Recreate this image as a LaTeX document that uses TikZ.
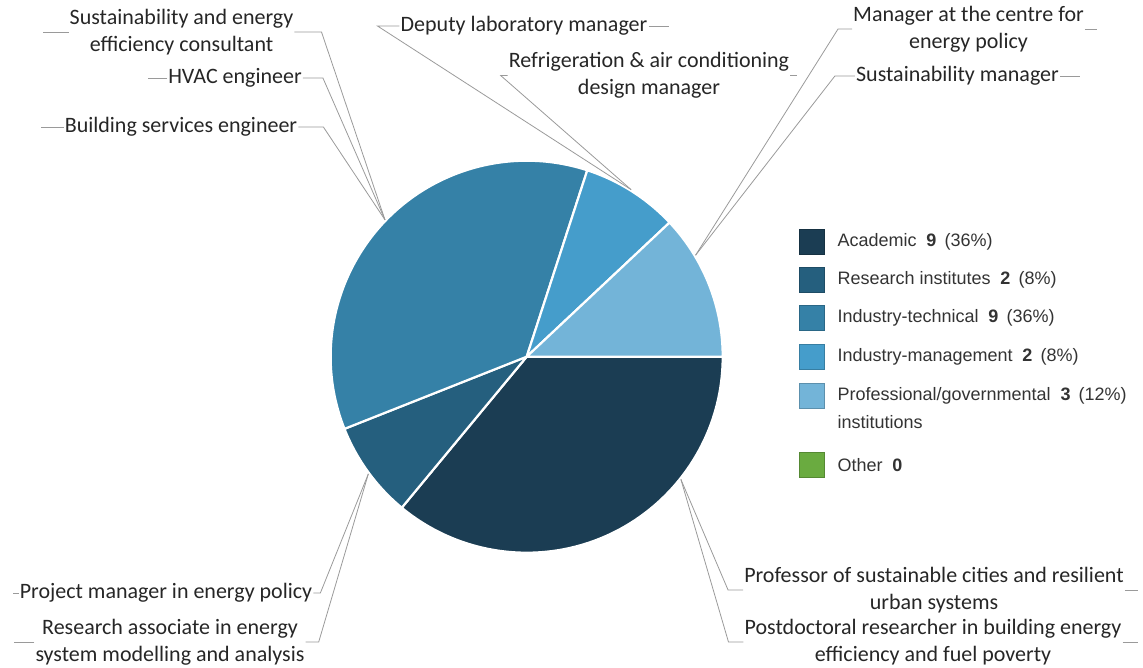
\documentclass[tikz,border=0pt]{standalone}
\usepackage{fontspec}
\setmainfont{Carlito}
\newfontfamily\legendfont{Liberation Sans}
\usetikzlibrary{calc}
\usetikzlibrary{positioning}

\definecolor{academic}{HTML}{1B3D53}
\definecolor{research}{HTML}{255F7E}
\definecolor{indtech}{HTML}{3581A7}
\definecolor{indman}{HTML}{459DCB}
\definecolor{profinst}{HTML}{73B4D8}
\definecolor{other}{HTML}{6AAB40}
\definecolor{leadgray}{HTML}{9A9A9A}

\tikzset{
	pieslice/.style={draw=white, line width=2.2pt, line join=round},
	leader/.style={draw=leadgray, line width=0.8pt},
	lbl/.style={font=\fontsize{22}{27}\selectfont, align=center, inner sep=1pt, text=black!85},
	legendkey/.style={minimum size=25pt, inner sep=0pt, draw=#1!80!black, fill=#1, line width=0.6pt},
	keytext/.style={font=\legendfont\fontsize{18}{28}\selectfont, inner sep=0pt, align=left, text=black!80}
}

\begin{document}
\begin{tikzpicture}[x=1pt, y=1pt]
	\useasboundingbox (0,0) rectangle (1143,-668);
	\coordinate (C) at (526.7,-356.7);
	% pie
	\filldraw[fill=academic, pieslice] (C) -- ++(0:196pt) arc[start angle=0, end angle=-129.6, radius=196pt] -- cycle;
	\filldraw[fill=research, pieslice] (C) -- ++(-129.6:196pt) arc[start angle=-129.6, end angle=-158.4, radius=196pt] -- cycle;
	\filldraw[fill=indtech, pieslice] (C) -- ++(201.6:196pt) arc[start angle=201.6, end angle=72, radius=196pt] -- cycle;
	\filldraw[fill=indman, pieslice] (C) -- ++(72:196pt) arc[start angle=72, end angle=43.2, radius=196pt] -- cycle;
	\filldraw[fill=profinst, pieslice] (C) -- ++(43.2:196pt) arc[start angle=43.2, end angle=0, radius=196pt] -- cycle;
	\coordinate (pTL) at ($(C)+(136:197pt)$);
	\coordinate (pTM) at ($(C)+(58:197pt)$);
	\coordinate (pTR) at ($(C)+(31:197pt)$);
	\coordinate (pBL) at ($(C)+(216.5:197pt)$);
	\coordinate (pBR) at ($(C)+(-38.5:197pt)$);
	% labels
	\node[lbl] (consult) at (181.5,-32) {Sustainability and energy\\efficiency consultant};
	\node[lbl] (hvac) at (235,-78) {HVAC engineer};
	\node[lbl] (bse) at (181,-127) {Building services engineer};
	\node[lbl] (deputy) at (524,-26) {Deputy laboratory manager};
	\node[lbl] (refrig) at (649,-75.5) {Refrigeration \& air conditioning\\design manager};
	\node[lbl] (cep) at (968.5,-29) {Manager at the centre for\\energy policy};
	\node[lbl] (susman) at (957.5,-76) {Sustainability manager};
	\node[lbl] (projman) at (166,-593) {Project manager in energy policy};
	\node[lbl] (resassoc) at (170,-642) {Research associate in energy\\system modelling and analysis};
	\node[lbl] (prof) at (934,-590) {Professor of sustainable cities and resilient\\urban systems};
	\node[lbl] (postdoc) at (933,-642) {Postdoctoral researcher in building energy\\efficiency and fuel poverty};
	% leader lines
	\draw[leader] (consult.west) -- ++(-26,0);
	\draw[leader] (consult.east) -- ++(27,0) -- (pTL);
	\draw[leader] (hvac.west) -- ++(-19,0);
	\draw[leader] (hvac.east) -- ++(20,0) -- (pTL);
	\draw[leader] (bse.west) -- ++(-23,0);
	\draw[leader] (bse.east) -- ++(25,0) -- (pTL);
	\draw[leader] (deputy.east) -- ++(20,0);
	\draw[leader] (deputy.west) -- ++(-22,0) -- (pTM);
	\draw[leader] (refrig.east) -- ++(7,0);
	\draw[leader] (refrig.west) -- ++(-7,0) -- (pTM);
	\draw[leader] (cep.east) -- ++(12,0);
	\draw[leader] (cep.west) -- ++(-14,0) -- (pTR);
	\draw[leader] (susman.east) -- ++(20,0);
	\draw[leader] (susman.west) -- ++(-20,0) -- (pTR);
	\draw[leader] (projman.west) -- ++(-6,0);
	\draw[leader] (projman.east) -- ++(7,0) -- (pBL);
	\draw[leader] (resassoc.west) -- ++(-20,0);
	\draw[leader] (resassoc.east) -- ++(13,0) -- (pBL);
	\draw[leader] (prof.east) -- ++(13,0);
	\draw[leader] (prof.west) -- ++(-15,0) -- (pBR);
	\draw[leader] (postdoc.east) -- ++(15,0);
	\draw[leader] (postdoc.west) -- ++(-15,0) -- (pBR);
	% legend
	\node[legendkey=academic] (kAcad) at (811.5,-242) {};
	\node[legendkey=research, below=12.5pt of kAcad] (kRes) {};
	\node[legendkey=indtech, below=12.5pt of kRes] (kTech) {};
	\node[legendkey=indman, below=13pt of kTech] (kMan) {};
	\node[legendkey=profinst, below=13pt of kMan] (kProf) {};
	\node[legendkey=other, below=44pt of kProf] (kOther) {};
	\node[keytext, right=13pt of kAcad] (tAcad) {Academic\hspace{0.55em}\textbf{9}\hspace{0.45em}(36\%)};
	\node[keytext, right=13pt of kRes] (tRes) {Research institutes\hspace{0.55em}\textbf{2}\hspace{0.45em}(8\%)};
	\node[keytext, right=13pt of kTech] (tTech) {Industry-technical\hspace{0.55em}\textbf{9}\hspace{0.45em}(36\%)};
	\node[keytext, right=13pt of kMan] (tMan) {Industry-management\hspace{0.55em}\textbf{2}\hspace{0.45em}(8\%)};
	\node[keytext, right=13pt of kProf.north east, anchor=north west, yshift=-5pt] (tProf) {Professional/governmental\hspace{0.55em}\textbf{3}\hspace{0.45em}(12\%)\\institutions};
	\node[keytext, right=13pt of kOther] (tOther) {Other\hspace{0.55em}\textbf{0}};
\end{tikzpicture}
\end{document}
